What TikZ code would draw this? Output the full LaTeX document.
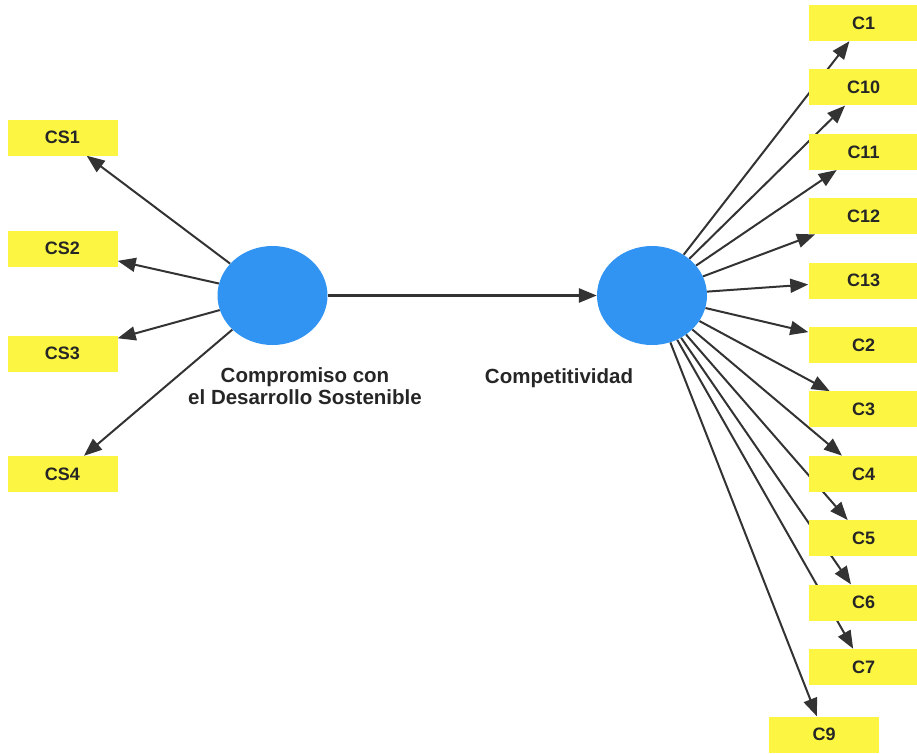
\documentclass[tikz,border=0pt]{standalone}
\usepackage{fontspec}
\setmainfont{Liberation Sans}
\usetikzlibrary{arrows.meta,backgrounds,shapes.geometric}
\definecolor{boxyellow}{RGB}{252,246,66}
\definecolor{latblue}{RGB}{49,148,242}
\tikzset{
	ind/.style={fill=boxyellow,minimum width=110pt,minimum height=36pt,inner sep=0pt,text=black!85,font=\fontsize{18}{18}\selectfont\bfseries},
	lat/.style={ellipse,fill=latblue,minimum width=110pt,minimum height=99pt,inner sep=0pt},
	latname/.style={inner sep=0pt,align=center,text=black!85,font=\fontsize{20.5}{22}\selectfont\bfseries},
	load/.style={->,line width=2pt,draw=black!80}
}
\begin{document}
\begin{tikzpicture}[x=1pt,y=-1pt,>={Triangle[length=18pt,width=14pt]}]
	\useasboundingbox (0,0) rectangle (917,753);
	\node [lat] (cds) at (272.5,295.5) {};
	\node [lat] (comp) at (652,295.5) {};
	\node [latname] at (305,386) {Compromiso con\\el Desarrollo Sostenible};
	\node [latname] at (559,378) {Competitividad};
	\node [ind] (cs1) at (62.5,137.5) {CS1};
	\node [ind] (cs2) at (62.5,248.5) {CS2};
	\node [ind] (cs3) at (62.5,353.5) {CS3};
	\node [ind] (cs4) at (62.5,474) {CS4};
	\node [ind] (c1) at (863.5,23) {C1};
	\node [ind] (c10) at (863.5,87.4) {C10};
	\node [ind] (c11) at (863.5,151.8) {C11};
	\node [ind] (c12) at (863.5,216.2) {C12};
	\node [ind] (c13) at (863.5,280.6) {C13};
	\node [ind] (c2) at (863.5,345) {C2};
	\node [ind] (c3) at (863.5,409.4) {C3};
	\node [ind] (c4) at (863.5,473.8) {C4};
	\node [ind] (c5) at (863.5,538.2) {C5};
	\node [ind] (c6) at (863.5,602.6) {C6};
	\node [ind] (c7) at (863.5,667) {C7};
	\node [ind] (c9) at (824,734.5) {C9};
	\begin{scope}[on background layer]
	\draw [load,line width=2.8pt] (cds) -- (comp);
	\draw [load] (cds) -- (cs1);
	\draw [load] (cds) -- (cs2);
	\draw [load] (cds) -- (cs3);
	\draw [load] (cds) -- (cs4);
	\draw [load] (comp) -- (c1);
	\draw [load] (comp) -- (c10);
	\draw [load] (comp) -- (c11);
	\draw [load] (comp) -- (c12);
	\draw [load] (comp) -- (c13);
	\draw [load] (comp) -- (c2);
	\draw [load] (comp) -- (c3);
	\draw [load] (comp) -- (c4);
	\draw [load] (comp) -- (c5);
	\draw [load] (comp) -- (c6);
	\draw [load] (comp) -- (c7);
	\draw [load] (comp) -- (c9);
	\end{scope}
\end{tikzpicture}
\end{document}
